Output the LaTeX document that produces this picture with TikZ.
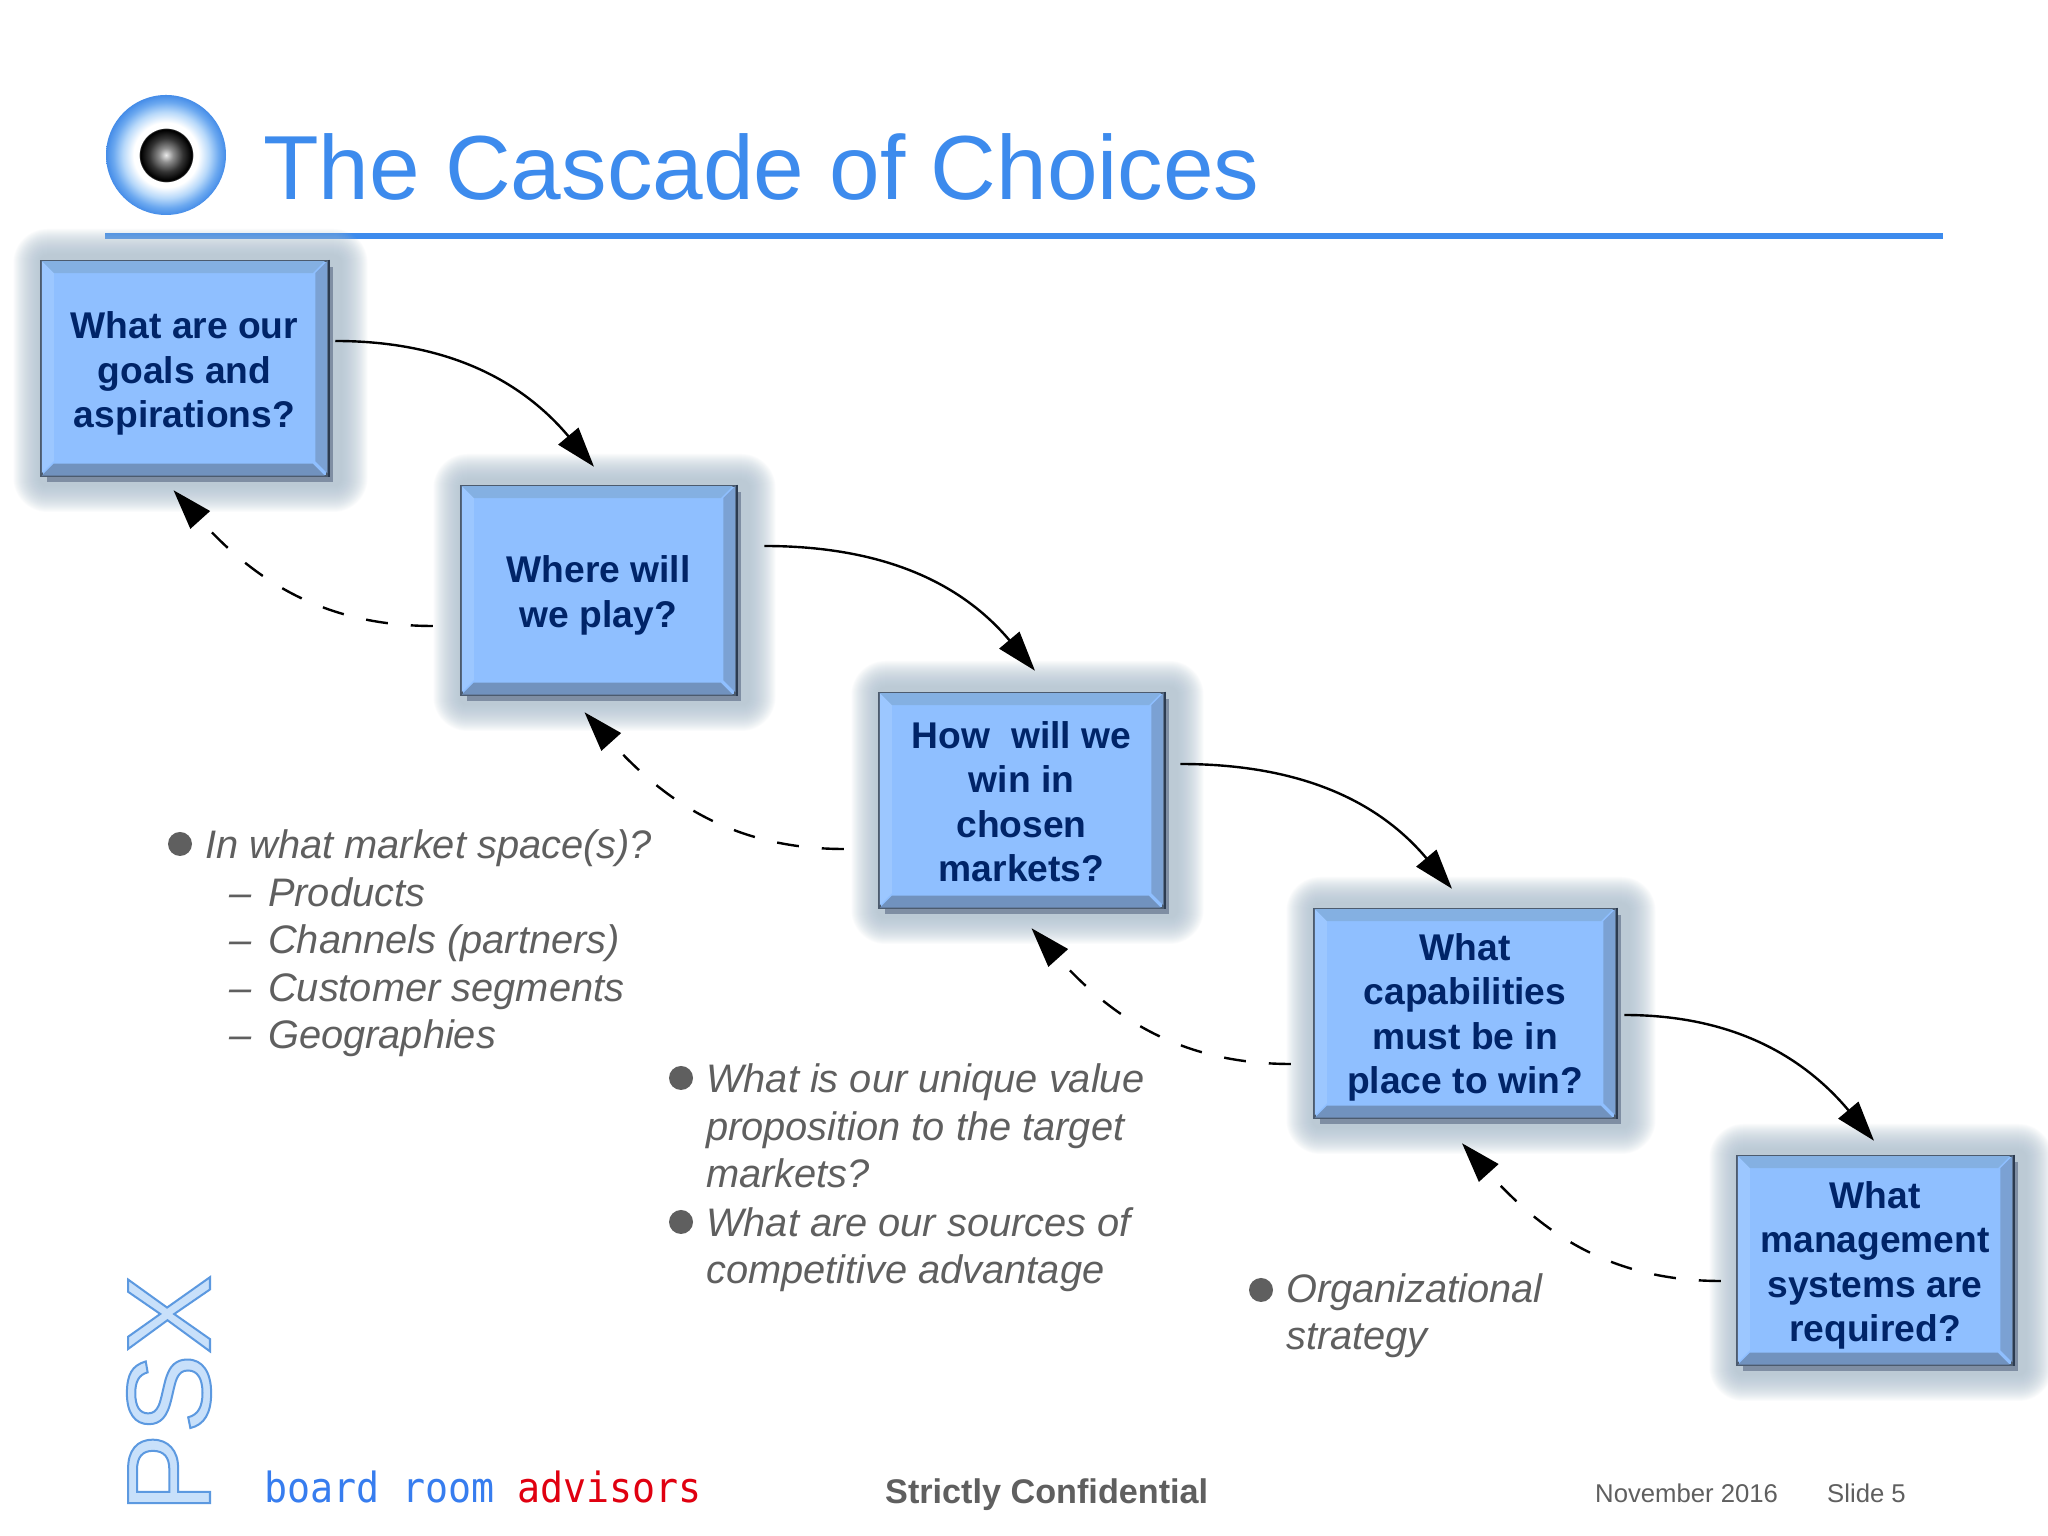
\documentclass[tikz,border=0pt]{standalone}
\usepackage{fontspec}
\setmainfont{Liberation Sans}
\newfontfamily\brfont[FakeStretch=0.92]{DejaVu Sans Mono}
\usetikzlibrary{arrows.meta,positioning}
\definecolor{titleblue}{HTML}{3D8BED}
\definecolor{boxfill}{HTML}{8FBFFF}
\definecolor{navy}{HTML}{002468}
\definecolor{txtgrey}{HTML}{5F5F5F}
\definecolor{halo}{HTML}{AFC1D1}
\definecolor{dropsh}{HTML}{7F8EA3}
\definecolor{edge}{HTML}{4C5B6E}
\definecolor{darkedge}{HTML}{2C3B50}
\definecolor{psxfill}{HTML}{C8E0FA}
\pgfdeclareradialshading{eyeshade}{\pgfpoint{0bp}{0bp}}{
 rgb(0bp)=(0.92,0.92,0.92);
 rgb(3bp)=(0.55,0.55,0.55);
 rgb(7bp)=(0.2,0.2,0.2);
 rgb(10.5bp)=(0,0,0);
 rgb(10.9bp)=(0,0,0);
 rgb(11.3bp)=(1,1,1);
 rgb(13.5bp)=(1,1,1);
 rgb(18bp)=(0.72,0.85,0.98);
 rgb(22bp)=(0.42,0.66,0.94);
 rgb(25bp)=(0.27,0.55,0.91);
 rgb(100bp)=(0.27,0.55,0.91)}
\newcommand{\lift}[1]{\rule{0pt}{\dimexpr 27pt+#1pt*2\relax}}
\tikzset{
 x=1pt,y=1pt,
 boxnode/.style={draw=edge,line width=2.5pt,fill=boxfill,text=navy,align=center,inner sep=0pt,
   font=\bfseries\fontsize{37.2}{44.4}\selectfont},
 flow/.style={line width=2.4pt,-{Triangle[length=40pt,width=26pt]}},
 back/.style={line width=2.4pt,dash pattern=on 22pt off 23pt,-{Triangle[length=40pt,width=26pt]}},
 note/.style={text=txtgrey,align=left,inner sep=0pt,anchor=base west,
   font=\itshape\fontsize{39.8}{47.6}\selectfont},
 bul/.style={circle,fill=txtgrey,minimum size=24pt,inner sep=0pt},
 foot/.style={text=txtgrey,inner sep=0pt,anchor=base west},
}
\newcommand{\bevbox}[6]{%
 \foreach \r in {34,33,...,8}{
  \fill[halo,opacity=.05,rounded corners=\r pt]
   ({#2-#4/2-\r+6},{#3-#5/2-\r-2}) rectangle ({#2+#4/2+\r+6},{#3+#5/2+\r-2});
 }
 \fill[dropsh] ({#2-#4/2+5},{#3-#5/2-6}) rectangle ({#2+#4/2+5},{#3+#5/2-6});
 \node[boxnode,minimum width=#4 pt,minimum height=#5 pt] (#1) at (#2,#3) {#6};
 \fill[white!30!cyan!20!boxfill] (#1.north west)++(1.5,-1.5) -- ++({#4-3},0) -- ++(-12,-12) -- ++({-(#4-3)+24},0) -- cycle;
 \fill[boxfill!70!edge] (#1.north east)++(-1.5,-1.5) -- ++(0,{-(#5-3)}) -- ++(-12,12) -- ++(0,{(#5-3)-24}) -- cycle;
 \fill[boxfill!55!edge] (#1.south west)++(1.5,1.5) -- ++({#4-3},0) -- ++(-12,12) -- ++({-(#4-3)+24},0) -- cycle;
 \fill[boxfill!88!white] (#1.north west)++(1.5,-1.5) -- ++(0,{-(#5-3)}) -- ++(12,12) -- ++(0,{(#5-3)-24}) -- cycle;
 \draw[darkedge,line width=2.5pt] (#1.north east) -- (#1.south east);
}
\begin{document}
\begin{tikzpicture}
\useasboundingbox (0,0) rectangle (2048,1536);
\fill[white] (0,0) rectangle (2048,1536);
% header
\shade[shading=eyeshade] (166,1381) circle (60);
\node[inner sep=0pt,anchor=base west,text=titleblue,font=\fontsize{91}{91}\selectfont] (title) at (263,1336) {The Cascade of Choices};
\coordinate (ruleL) at (105,1300);
\coordinate (ruleR) at (1943,1300);
\draw[titleblue,line width=6pt] (ruleL) -- (ruleR);
% boxes
\bevbox{b1}{184.5}{1167.5}{286}{215}{\lift{5}What are our\\goals and\\aspirations?}
\bevbox{b2}{598.5}{945.5}{274}{209}{\lift{5}Where will\\we play?}
\bevbox{b3}{1021.5}{735.5}{284}{215}{\lift{1}How\ \ will we\\win in\\chosen\\markets?}
\bevbox{b4}{1465}{522.5}{301}{209}{\lift{4}What\\capabilities\\must be in\\place to win?}
\bevbox{b5}{1875}{275.5}{275}{209}{\lift{5}What\\management\\systems are\\required?}
% forward connectors
\draw[flow] ([shift={(6.5,27.5)}]b1.east) to[out=0,in=130] ([shift={(-4.5,18)}]b2.north);
\draw[flow] ([shift={(27.5,44.5)}]b2.east) to[out=0,in=130] ([shift={(13.5,21)}]b3.north);
\draw[flow] ([shift={(15.5,36.5)}]b3.east) to[out=0,in=130] ([shift={(-13,19)}]b4.north);
\draw[flow] ([shift={(7.5,-1.5)}]b4.east) to[out=0,in=130] ([shift={(-1,14)}]b5.north);
% backward connectors
\draw[back] ([shift={(-27.5,-35.5)}]b2.west) to[out=180,in=-48] ([shift={(-11,-13)}]b1.south);
\draw[back] ([shift={(-34.5,-48.5)}]b3.west) to[out=180,in=-48] ([shift={(-14,-16)}]b2.south);
\draw[back] ([shift={(-22.5,-50.5)}]b4.west) to[out=180,in=-48] ([shift={(10,-19)}]b3.south);
\draw[back] ([shift={(-15.5,-20.5)}]b5.west) to[out=180,in=-48] ([shift={(-3,-24)}]b4.south);
% notes
\node[bul] (bu1) at (180,692) {};
\node[note] (n1) at (205,487) {In what market space(s)?\\
 \hspace*{24pt}\makebox[39pt][l]{–}Products\\
 \hspace*{24pt}\makebox[39pt][l]{–}Channels (partners)\\
 \hspace*{24pt}\makebox[39pt][l]{–}Customer segments\\
 \hspace*{24pt}\makebox[39pt][l]{–}Geographies};
\node[bul] (bu2) at (681,458) {};
\node[note] (n2) at (706,348) {What is our unique value\\proposition to the target\\markets?};
\node[bul] (bu3) at (681,314) {};
\node[note] (n3) at (706,252) {What are our sources of\\competitive advantage};
\node[bul] (bu4) at (1261,246) {};
\node[note] (n4) at (1286,186) {Organizational\\strategy};
% footer
\node[rotate=90,inner sep=0pt,anchor=base west,text=psxfill,font=\fontsize{119}{119}\selectfont] (psx) at (210,23)
 {\special{pdf:code 2 Tr 2 w 0.36 0.6 0.88 RG}PSX\special{pdf:code 0 Tr}};
\node[inner sep=0pt,anchor=base west,font=\brfont\fontsize{41.6}{41.6}\selectfont] (brd) at (264,33)
 {\textcolor{titleblue!90!blue}{board room} \textcolor[HTML]{E00010}{advisors}};
\node[foot,font=\bfseries\fontsize{34.2}{34.2}\selectfont] (conf) at (885,32) {Strictly Confidential};
\node[foot,font=\fontsize{25.7}{25.7}\selectfont] (date) at (1595,33) {November 2016};
\node[foot,font=\fontsize{25.7}{25.7}\selectfont] (slide) at (1827,33) {Slide 5};
\end{tikzpicture}
\end{document}
